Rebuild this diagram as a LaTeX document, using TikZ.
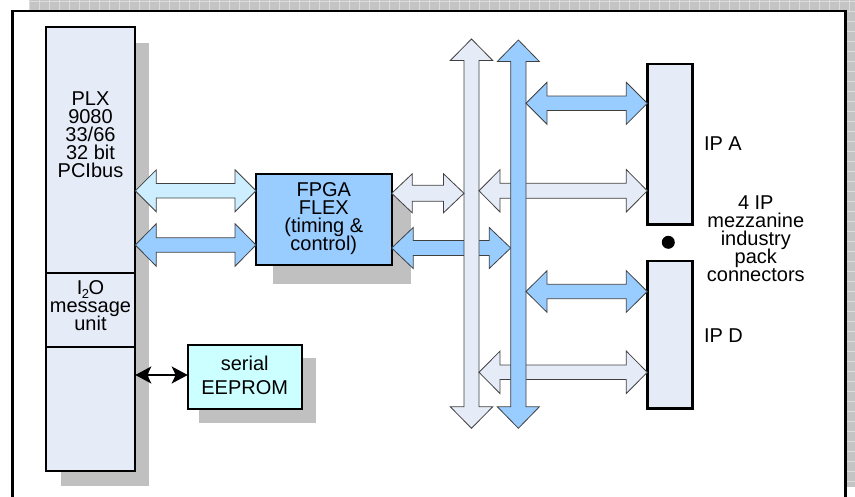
\documentclass[tikz,border=0pt]{standalone}
\usepackage{fontspec}
\setmainfont{Liberation Sans}
\usetikzlibrary{calc,arrows.meta}
\definecolor{plxfill}{HTML}{E6ECF7}
\definecolor{cyanA}{HTML}{CCEEFF}
\definecolor{blueA}{HTML}{99CCFF}
\definecolor{eepfill}{HTML}{CCFFFF}
\definecolor{shadowc}{HTML}{C0C0C0}
\definecolor{gridfill}{HTML}{C4C4C4}
\definecolor{gridline}{HTML}{DCDCDC}
\newcommand\ls{\rule[-3.4pt]{0pt}{18pt}}
\newcommand\lsb{\rule[-9.4pt]{0pt}{24pt}}
% horizontal double block arrow: fill, from, to, shaft half, head half, head length
\newcommand\harr[6]{%
  \filldraw[blockarrow,fill=#1] let \p1=(#2), \p2=(#3) in
   (\x1,\y1) -- ({\x1+#6pt},{\y1+#5pt}) -- ({\x1+#6pt},{\y1+#4pt}) -- ({\x2-#6pt},{\y1+#4pt})
   -- ({\x2-#6pt},{\y1+#5pt}) -- (\x2,\y1) -- ({\x2-#6pt},{\y1-#5pt}) -- ({\x2-#6pt},{\y1-#4pt})
   -- ({\x1+#6pt},{\y1-#4pt}) -- ({\x1+#6pt},{\y1-#5pt}) -- cycle;}
% vertical double block arrow: fill, top, bottom, shaft half, head half, head length
\newcommand\varr[6]{%
  \filldraw[blockarrow,fill=#1] let \p1=(#2), \p2=(#3) in
   (\x1,\y1) -- ({\x1+#5pt},{\y1-#6pt}) -- ({\x1+#4pt},{\y1-#6pt}) -- ({\x1+#4pt},{\y2+#6pt})
   -- ({\x1+#5pt},{\y2+#6pt}) -- (\x1,\y2) -- ({\x1-#5pt},{\y2+#6pt}) -- ({\x1-#4pt},{\y2+#6pt})
   -- ({\x1-#4pt},{\y1-#6pt}) -- ({\x1-#5pt},{\y1-#6pt}) -- cycle;}
\tikzset{
  box/.style={draw=black, line width=2.2pt, inner sep=0pt, outer sep=0pt},
  txt/.style={align=center, inner sep=0pt, outer sep=0pt},
  blockarrow/.style={draw=black!75, line width=0.8pt, line join=miter},
  shaftnode/.style={inner sep=0pt, outer sep=0pt},
  linkhead/.tip={Stealth[length=16pt,width=17pt,inset=4pt]},
}
\begin{document}
\lineskiplimit=-30pt\relax
\begin{tikzpicture}[x=1pt,y=-1pt,font=\fontsize{20}{18}\selectfont]
\useasboundingbox (0,0) rectangle (855,497);
% background grid
\fill[gridfill] (29,0) rectangle (855,11);
\fill[gridfill] (847,0) rectangle (855,487);
\foreach \x in {29,39,...,849} \draw[gridline,line width=0.8pt] (\x,0) -- (\x,11);
\draw[gridline,line width=0.8pt] (29,1) -- (855,1);
\foreach \y in {1,11,...,481} \draw[gridline,line width=0.8pt] (847,\y) -- (855,\y);
% frame
\draw[line width=2.5pt] (12.3,11) rectangle (845.7,520);
% shadows and boxes
\fill[shadowc] (61,42.7) rectangle (149.3,485.7);
\node[box, fill=plxfill, minimum width=89.6pt, minimum height=443.7pt] (plx) at (90.5,249.15) {};
\draw[line width=2.2pt] (plx.west |- 0,272.7) -- (plx.east |- 0,272.7);
\draw[line width=2.2pt] (plx.west |- 0,347.3) -- (plx.east |- 0,347.3);
\fill[shadowc] (273,192) rectangle (410.7,284);
\node[box, fill=blueA, minimum width=135.7pt, minimum height=90.7pt] (fpga) at (323.85,219.65) {};
\fill[shadowc] (199,358) rectangle (315.7,422.7);
\node[box, fill=eepfill, minimum width=114pt, minimum height=64pt] (eeprom) at (244.7,377) {};
\node[box, fill=plxfill, line width=2.5pt, minimum width=45pt, minimum height=160.3pt] (ipa) at (669.8,144.15) {};
\node[box, fill=plxfill, line width=2.5pt, minimum width=45pt, minimum height=147.3pt] (ipd) at (669.8,334.65) {};
\node[circle, fill=black, inner sep=0pt, minimum size=13pt] (dot) at (668.3,242.3) {};
% bus shafts (invisible reference nodes)
\node[shaftnode, minimum width=15pt, minimum height=389.3pt] (busL) at (471.5,233.65) {};
\node[shaftnode, minimum width=15.3pt, minimum height=388.3pt] (busR) at (518.35,234.15) {};
% block arrows
\harr{cyanA}{plx.east |- 0,190.8}{fpga.west |- 0,190.8}{7.2}{21}{21}
\harr{blueA}{plx.east |- 0,245}{fpga.west |- 0,245}{7.2}{21.3}{21}
\harr{blueA}{fpga.east |- 0,248}{busR.west |- 0,248}{7.5}{20.5}{21.5}
\varr{plxfill}{busL.north}{busL.south}{7.5}{21.2}{21.5}
\harr{plxfill}{busL.east |- 0,190.8}{ipa.west |- 0,190.8}{7.5}{21.2}{21}
\harr{plxfill}{busL.east |- 0,372.3}{ipd.west |- 0,372.3}{7.2}{21.2}{21}
\varr{blueA}{busR.north}{busR.south}{7.65}{21}{21.5}
\harr{blueA}{busR.east |- 0,103.3}{ipa.west |- 0,103.3}{7.2}{21}{21}
\harr{blueA}{busR.east |- 0,291.5}{ipd.west |- 0,291.5}{7.2}{20.8}{21}
\harr{plxfill}{fpga.east |- 0,193.3}{busL.west |- 0,193.3}{8}{19.5}{20.5}
% serial link
\draw[line width=2pt, linkhead-linkhead]
  (plx.east |- 0,375) -- (eeprom.west |- 0,375);
% texts
\node[txt] (plxtxt) at (90.5,136.4) {\ls PLX\\\ls 9080\\\ls 33/66\\\ls 32 bit\\\ls PCIbus};
\node[txt] (i2otxt) at (90.5,307.4) {\ls I\kern-0.5pt\raisebox{-3.5pt}{\fontsize{13}{13}\selectfont 2}\kern-0.5pt O\\\ls message\\\ls unit};
\node[txt] (fpgatxt) at (323.8,218.1) {\ls FPGA\\\ls FLEX\\\ls (timing \&\\\ls control)};
\node[txt, font=\fontsize{20}{24}\selectfont] (eeptxt) at (244.7,379.4) {\lsb serial\\\lsb EEPROM};
\node[txt, anchor=base west] (ipalbl) at (704,150.7) {IP A};
\node[txt, anchor=base west] (ipdlbl) at (704,342.7) {IP D};
\node[txt] (conntxt) at (755.8,239.7) {\ls 4 IP\\\ls mezzanine\\\ls industry\\\ls pack\\\ls connectors};
\end{tikzpicture}
\end{document}
